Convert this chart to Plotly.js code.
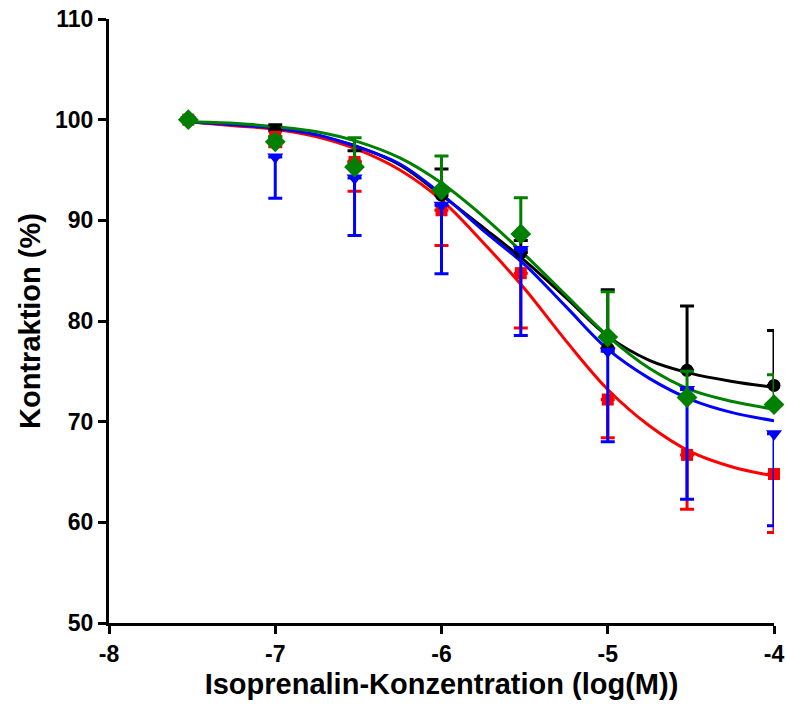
<!DOCTYPE html>
<html><head><meta charset="utf-8">
<script src="https://cdn.plot.ly/plotly-3.0.1.min.js"></script>
<style>html,body{margin:0;padding:0;background:#fff}</style>
</head><body><div id="chart" style="width:786px;height:710px"></div>
<script>
// Measured points (log M)
const doseLog = [-7.523, -7, -6.523, -6, -5.523, -5, -4.523, -4];
const blackMean = [100, 98.9, 95.8, 92.5, 86.8, 77.3, 75.1, 73.6];
const blackErrUp = [0, 0.6, 1.1, 2.6, 1.2, 5.8, 6.4, 5.45];
const redMean = [100, 98.3, 95.8, 91.0, 84.75, 72.2, 66.7, 64.8];
const redErrDown = [0, 1.0, 2.9, 3.5, 5.45, 3.8, 5.4, 5.8];
const blueMean = [100, 96.3, 94.2, 91.5, 87.1, 77.0, 73.2, 68.8];
const blueErrDown = [0, 4.1, 5.7, 6.8, 8.55, 9.0, 10.9, 9.15];
const greenMean = [100, 97.8, 95.3, 93.0, 88.65, 78.4, 72.4, 71.7];
const greenErrUp = [0, 0.5, 2.9, 3.4, 3.6, 4.5, 2.6, 2.95];

// Fitted curves
const curveX = [-7.523, -7.25, -7, -6.75, -6.5, -6.25, -6, -5.75, -5.5, -5.25, -5, -4.75, -4.5, -4.25, -4];
const blackCurve = [99.8, 99.5, 99.2, 98.4, 97.3, 95.5, 92.5, 89.3, 86.0, 82.3, 78.5, 76.1, 74.8, 74.0, 73.4];
const redCurve = [99.8, 99.4, 99.05, 98.3, 97.0, 95.0, 92.0, 87.8, 83.2, 78.0, 73.2, 69.6, 67.0, 65.5, 64.6];
const blueCurve = [99.8, 99.5, 99.15, 98.5, 97.25, 95.6, 92.6, 89.0, 85.6, 81.4, 77.2, 74.3, 72.2, 70.9, 70.1];
const greenCurve = [99.8, 99.65, 99.3, 98.8, 97.8, 96.2, 93.7, 90.4, 86.6, 82.55, 78.5, 75.3, 73.15, 72.0, 71.25];

const xTicks = [-8, -7, -6, -5, -4];
const yTicks = [50, 60, 70, 80, 90, 100, 110];

const FONT = 'Liberation Sans, Arial, Helvetica, sans-serif';
const series = [
  {name: 'black', color: '#000000', sym: 'circle', size: 13, mean: blackMean, curve: blackCurve, up: blackErrUp, down: null},
  {name: 'red', color: '#ff0000', sym: 'square', size: 12, mean: redMean, curve: redCurve, up: null, down: redErrDown},
  {name: 'blue', color: '#0000ff', sym: 'triangle-down', size: 14, mean: blueMean, curve: blueCurve, up: null, down: blueErrDown},
  {name: 'green', color: '#008000', sym: 'diamond', size: 16, mean: greenMean, curve: greenCurve, up: greenErrUp, down: null}
];

const traces = [];
series.forEach(s => {
  traces.push({
    x: curveX, y: s.curve, type: 'scatter', mode: 'lines',
    line: {color: s.color, width: 3, shape: 'spline', smoothing: 1},
    hoverinfo: 'skip', showlegend: false, cliponaxis: false
  });
});
series.forEach(s => {
  const zeros = s.mean.map(() => 0);
  traces.push({
    x: doseLog, y: s.mean, type: 'scatter', mode: 'markers',
    marker: {color: s.color, symbol: s.sym, size: s.size, line: {width: 0}},
    error_y: {type: 'data', symmetric: false,
      array: s.up ? s.up : zeros, arrayminus: s.down ? s.down : zeros,
      color: s.color, thickness: 3, width: 7},
    showlegend: false, cliponaxis: false
  });
});

const layout = {
  width: 786, height: 710,
  margin: {l: 109, r: 12, t: 19, b: 87},
  paper_bgcolor: '#ffffff', plot_bgcolor: '#ffffff',
  font: {family: FONT, color: '#000', size: 23, weight: 700},
  showlegend: false,
  xaxis: {
    range: [-8, -4], tickvals: xTicks, ticktext: xTicks.map(String),
    showgrid: false, zeroline: false, showline: true, linecolor: '#000', linewidth: 3,
    ticks: 'outside', ticklen: 8, tickwidth: 3, tickcolor: '#000',
    tickfont: {family: FONT, size: 23, weight: 700, color: '#000'},
    title: {text: 'Isoprenalin-Konzentration (log(M))', font: {family: FONT, size: 29, weight: 700, color: '#000'}, standoff: 9},
    automargin: false
  },
  yaxis: {
    range: [50, 110], tickvals: yTicks, ticktext: yTicks.map(String),
    showgrid: false, zeroline: false, showline: true, linecolor: '#000', linewidth: 3,
    ticks: 'outside', ticklen: 8, tickwidth: 3, tickcolor: '#000',
    tickfont: {family: FONT, size: 23, weight: 700, color: '#000'},
    title: {text: 'Kontraktion (%)', font: {family: FONT, size: 29, weight: 700, color: '#000'}, standoff: 6},
    automargin: false
  }
};

Plotly.newPlot('chart', traces, layout, {displayModeBar: false, staticPlot: true});
</script>
</body></html>
